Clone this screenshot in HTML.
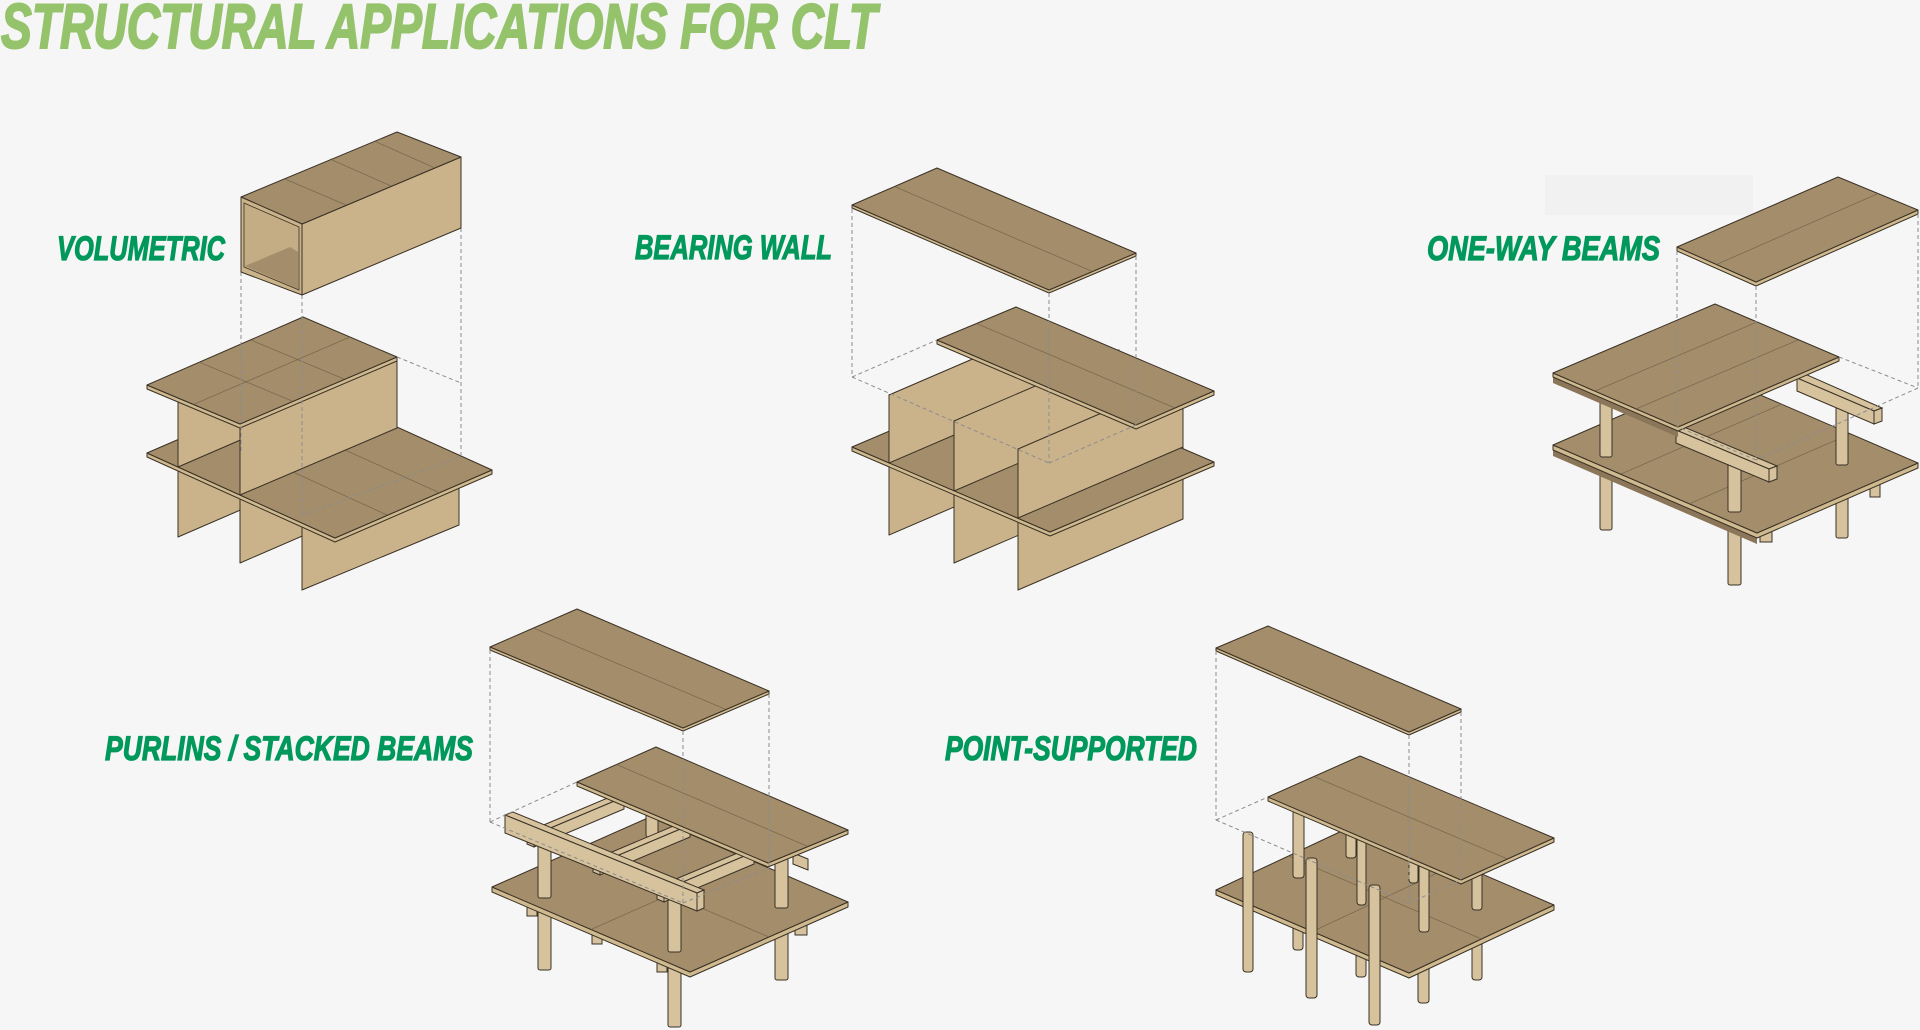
<!DOCTYPE html>
<html>
<head>
<meta charset="utf-8">
<style>
html,body{margin:0;padding:0;background:#f6f6f6;}
svg{display:block;}
.t{fill:#a48d6b;stroke:#3a3125;stroke-width:1;stroke-linejoin:round}
.w{fill:#cab38a;stroke:#3a3125;stroke-width:1;stroke-linejoin:round}
.e{fill:#cfb98f;stroke:#3a3125;stroke-width:1;stroke-linejoin:round}
.s{stroke:#6e5d45;stroke-width:.8;fill:none;opacity:.75}
.d{stroke:#8c8c8c;stroke-width:1;fill:none;stroke-dasharray:4 3}
.c{fill:#d6c39e;stroke:#3a3125;stroke-width:1}
.b{fill:#8c7659;stroke:none}
.lbl{font-family:"Liberation Sans",sans-serif;font-weight:bold;font-style:italic;fill:#00985b;stroke:#00985b;stroke-width:1.2;font-size:34px}
.ttl{font-family:"Liberation Sans",sans-serif;font-weight:bold;font-style:italic;fill:#94c36b;stroke:#94c36b;stroke-width:2;font-size:63px}
</style>
</head>
<body>
<svg width="1920" height="1030" viewBox="0 0 1920 1030" xmlns="http://www.w3.org/2000/svg">
<rect x="0" y="0" width="1920" height="1030" fill="#f6f6f6"/>

<!-- Title -->
<text class="ttl" x="1" y="48" textLength="876" lengthAdjust="spacingAndGlyphs">STRUCTURAL APPLICATIONS FOR CLT</text>

<!-- Labels -->
<text class="lbl" x="57" y="260" textLength="168" lengthAdjust="spacingAndGlyphs">VOLUMETRIC</text>
<text class="lbl" x="635" y="259" textLength="197" lengthAdjust="spacingAndGlyphs">BEARING WALL</text>
<rect x="1545" y="175" width="208" height="40" fill="#f1f1f1"/>
<text class="lbl" x="1427" y="260" textLength="233" lengthAdjust="spacingAndGlyphs">ONE-WAY BEAMS</text>
<text class="lbl" x="105" y="760" textLength="368" lengthAdjust="spacingAndGlyphs">PURLINS / STACKED BEAMS</text>
<text class="lbl" x="945" y="760" textLength="252" lengthAdjust="spacingAndGlyphs">POINT-SUPPORTED</text>

<!-- ================= FIG 1 : VOLUMETRIC ================= -->
<polygon class="w" points="178,399 245,370 245,508 178,537"/>
<polygon class="w" points="240,424 397,357 397,495 240,563"/>
<polygon class="w" points="302,523 459,455 459,525 302,590"/>
<polygon class="e" points="147,453 335,538 492,470 492,474 335,542 147,457"/>
<polygon class="t" points="147,453 304,385 492,470 335,538"/>
<line class="s" x1="345" y1="450" x2="440" y2="493"/>
<line class="s" x1="293" y1="472" x2="387" y2="515"/>
<polygon class="w" points="178,399 245,370 245,438 178,467"/>
<polygon class="w" points="240,424 397,357 397,428 240,495"/>
<polygon class="e" points="147,385 240,424 397,357 397,361 240,428 147,389"/>
<polygon class="t" points="147,385 303,317 397,357 240,424"/>
<line class="s" x1="193.5" y1="404.5" x2="350" y2="337"/>
<line class="s" x1="199" y1="362" x2="292" y2="401"/>
<line class="s" x1="251" y1="340" x2="344" y2="379"/>
<!-- dashed -->
<line class="d" x1="241" y1="272" x2="241" y2="453"/>
<line class="d" x1="302" y1="295" x2="302" y2="515"/>
<line class="d" x1="461" y1="228" x2="461" y2="457"/>
<line class="d" x1="397" y1="357" x2="461" y2="383"/>
<line class="d" x1="302" y1="515" x2="461" y2="457"/>
<!-- top box -->
<polygon class="w" points="302,224 461,157 461,228 302,295"/>
<polygon class="t" points="241,197 397,132 461,157 302,224"/>
<line class="s" x1="285" y1="179" x2="346" y2="205"/>
<line class="s" x1="330" y1="159" x2="391" y2="186"/>
<line class="s" x1="374" y1="141" x2="435" y2="168"/>
<polygon class="w" points="241,197 302,224 302,295 241,272"/>
<polygon fill="#c4ad84" stroke="#3a3125" stroke-width="0.8" points="244,203 299,227 299,290 244,267"/>
<polygon fill="#a48d6b" points="245,266 290,247 298,252 298,289"/>

<!-- ================= FIG 2 : BEARING WALL ================= -->
<polygon class="w" points="889,395 1054,324 1054,464 889,535"/>
<polygon class="w" points="954,421 1119,350 1119,492 954,563"/>
<polygon class="w" points="1018,449 1183,378 1183,519 1018,590"/>
<polygon class="e" points="852,447 1050,532 1214,462 1214,466 1050,536 852,451"/>
<polygon class="t" points="852,447 1016,377 1214,462 1050,532"/>
<polygon class="w" points="889,395 1054,324 1054,392 889,463"/>
<polygon class="w" points="954,421 1119,350 1119,420 954,491"/>
<polygon class="w" points="1018,449 1183,378 1183,447 1018,518"/>
<polygon class="e" points="937,340 1136,425 1214,391 1214,395 1136,429 937,344"/>
<polygon class="t" points="937,340 1016,307 1214,391 1136,425"/>
<line class="s" x1="976.5" y1="323.5" x2="1175" y2="408"/>
<polygon class="e" points="852,205 1049,290 1136,253 1136,256 1049,293 852,208"/>
<polygon class="t" points="852,205 937,168 1136,253 1049,290"/>
<line class="s" x1="894.5" y1="186.5" x2="1092.5" y2="271.5"/>
<line class="d" x1="852" y1="209" x2="852" y2="377"/>
<line class="d" x1="1049" y1="293" x2="1049" y2="463"/>
<line class="d" x1="1136" y1="256" x2="1136" y2="425"/>
<line class="d" x1="852" y1="377" x2="937" y2="340"/>
<line class="d" x1="852" y1="377" x2="1049" y2="463"/>
<line class="d" x1="1049" y1="463" x2="1136" y2="425"/>

<!-- ================= FIG 3 : ONE-WAY BEAMS ================= -->
<rect class="c" x="1600" y="462" width="12" height="68" rx="2"/>
<rect class="c" x="1728" y="515" width="13" height="70" rx="2"/>
<rect class="c" x="1836" y="480" width="12" height="58" rx="2"/>
<rect class="c" x="1870" y="470" width="10" height="27"/>
<rect class="c" x="1760" y="528" width="12" height="14"/>
<polygon class="b" points="1553,450 1757,538 1757,544 1553,456"/>
<polygon class="e" points="1553,445 1757,533 1918,463 1918,468 1757,538 1553,450"/>
<polygon class="t" points="1553,445 1714,375 1918,463 1757,533"/>
<line class="s" x1="1621" y1="474" x2="1782" y2="404"/>
<line class="s" x1="1689" y1="504" x2="1850" y2="434"/>
<rect class="c" x="1600" y="395" width="12" height="62" rx="2"/>
<rect class="c" x="1728" y="450" width="13" height="62" rx="2"/>
<rect class="c" x="1836" y="395" width="12" height="70" rx="2"/>
<!-- back beam -->
<polygon class="c" points="1797,378 1805,374 1882,408 1874,411"/>
<polygon class="c" points="1797,378 1874,411 1874,424 1797,391"/>
<polygon class="c" points="1874,411 1882,408 1882,421 1874,424"/>
<!-- front beam -->
<polygon class="c" points="1676,430 1684,427 1777,466 1769,469"/>
<polygon class="c" points="1676,430 1769,469 1769,482 1676,443"/>
<polygon class="c" points="1769,469 1777,466 1777,479 1769,482"/>
<polygon class="b" points="1553,377 1678,431 1678,437 1553,383"/>
<polygon class="e" points="1553,373 1678,427 1839,357 1839,361 1678,431 1553,377"/>
<polygon class="t" points="1553,373 1715,304 1839,357 1678,427"/>
<line class="s" x1="1595" y1="391" x2="1757" y2="322"/>
<line class="s" x1="1636" y1="409" x2="1798" y2="340"/>
<polygon class="e" points="1677,247 1756,282 1918,210 1918,214 1756,286 1677,251"/>
<polygon class="t" points="1677,247 1838,177 1918,210 1756,282"/>
<line class="s" x1="1716.5" y1="264.5" x2="1878" y2="193.5"/>
<line class="d" x1="1677" y1="251" x2="1677" y2="427"/>
<line class="d" x1="1756" y1="286" x2="1756" y2="460"/>
<line class="d" x1="1918" y1="214" x2="1918" y2="388"/>
<line class="d" x1="1839" y1="357" x2="1918" y2="388"/>
<line class="d" x1="1918" y1="388" x2="1756" y2="460"/>
<line class="d" x1="1756" y1="460" x2="1678" y2="427"/>

<!-- ================= FIG 4 : PURLINS ================= -->
<rect class="c" x="538" y="905" width="13" height="65" rx="2"/>
<rect class="c" x="668" y="960" width="13" height="67" rx="2"/>
<rect class="c" x="775" y="915" width="13" height="65" rx="2"/>
<rect class="c" x="527" y="902" width="10" height="14"/>
<rect class="c" x="592" y="930" width="10" height="14"/>
<rect class="c" x="657" y="958" width="10" height="14"/>
<rect class="c" x="795" y="915" width="12" height="20"/>
<polygon class="e" points="492,887 690,972 848,902 848,907 690,977 492,892"/>
<polygon class="t" points="492,887 650,817 848,902 690,972"/>
<line class="s" x1="571" y1="852" x2="769" y2="937"/>
<line class="s" x1="591" y1="929.5" x2="749" y2="859.5"/>
<rect class="c" x="646" y="810" width="12" height="27" rx="2"/>
<rect class="c" x="775" y="858" width="13" height="50" rx="2"/>
<rect class="c" x="538" y="835" width="13" height="63" rx="2"/>
<rect class="c" x="668" y="885" width="13" height="67" rx="2"/>
<!-- cross beams -->
<polygon class="c" points="527,832 617,794 624,797 534,835"/>
<polygon class="c" points="534,835 624,797 624,809 534,847"/>
<polygon class="c" points="527,832 534,835 534,847 527,844"/>
<polygon class="c" points="593,860 683,822 690,825 600,863"/>
<polygon class="c" points="600,863 690,825 690,837 600,875"/>
<polygon class="c" points="593,860 600,863 600,875 593,872"/>
<polygon class="c" points="657,887 747,849 754,852 664,890"/>
<polygon class="c" points="664,890 754,852 754,864 664,902"/>
<polygon class="c" points="657,887 664,890 664,902 657,899"/>
<!-- long beam -->
<polygon class="c" points="505,815 513,812 704,890 697,893"/>
<polygon class="c" points="505,815 697,893 697,911 505,833"/>
<polygon class="c" points="697,893 704,890 704,908 697,911"/>
<polygon class="c" points="793,853 808,859 808,870 793,864"/>
<polygon class="e" points="577,782 768,863 848,830 848,834 768,867 577,786"/>
<polygon class="t" points="577,782 656,747 848,830 768,863"/>
<line class="s" x1="616.5" y1="764.5" x2="808" y2="846.5"/>
<polygon class="e" points="490,647 683,728 769,691 769,694 683,731 490,650"/>
<polygon class="t" points="490,647 577,609 769,691 683,728"/>
<line class="s" x1="533.5" y1="628" x2="726" y2="709.5"/>
<line class="d" x1="490" y1="650" x2="490" y2="822"/>
<line class="d" x1="683" y1="731" x2="683" y2="903"/>
<line class="d" x1="769" y1="694" x2="769" y2="868"/>
<line class="d" x1="490" y1="822" x2="577" y2="782"/>
<line class="d" x1="490" y1="822" x2="683" y2="903"/>
<line class="d" x1="683" y1="903" x2="769" y2="868"/>

<!-- ================= FIG 5 : POINT-SUPPORTED ================= -->
<rect class="c" x="1293" y="915" width="10" height="35" rx="3"/>
<rect class="c" x="1356" y="945" width="10" height="32" rx="3"/>
<rect class="c" x="1418" y="960" width="11" height="43" rx="3"/>
<rect class="c" x="1472" y="940" width="10" height="40" rx="3"/>
<polygon class="e" points="1216,890 1409,973 1554,905 1554,910 1409,978 1216,895"/>
<polygon class="t" points="1216,890 1361,822 1554,905 1409,973"/>
<line class="s" x1="1288.5" y1="856" x2="1481.5" y2="939"/>
<line class="s" x1="1312.5" y1="931.5" x2="1457.5" y2="863.5"/>
<rect class="c" x="1346" y="830" width="10" height="28" rx="3"/>
<rect class="c" x="1409" y="855" width="9" height="28" rx="3"/>
<rect class="c" x="1293" y="810" width="11" height="68" rx="3"/>
<rect class="c" x="1357" y="835" width="9" height="70" rx="3"/>
<rect class="c" x="1472" y="870" width="10" height="40" rx="3"/>
<rect class="c" x="1419" y="862" width="10" height="70" rx="3"/>
<polygon class="e" points="1268,797 1461,880 1554,838 1554,842 1461,884 1268,801"/>
<polygon class="t" points="1268,797 1360,756 1554,838 1461,880"/>
<line class="s" x1="1314" y1="776.5" x2="1507.5" y2="859"/>
<rect class="c" x="1243" y="832" width="10" height="140" rx="3"/>
<rect class="c" x="1306" y="858" width="11" height="140" rx="3"/>
<rect class="c" x="1369" y="885" width="11" height="140" rx="3"/>
<polygon class="e" points="1216,648 1409,732 1461,709 1461,712 1409,735 1216,651"/>
<polygon class="t" points="1216,648 1268,626 1461,709 1409,732"/>
<line class="d" x1="1216" y1="651" x2="1216" y2="820"/>
<line class="d" x1="1409" y1="735" x2="1409" y2="903"/>
<line class="d" x1="1461" y1="712" x2="1461" y2="880"/>
<line class="d" x1="1216" y1="820" x2="1268" y2="797"/>
<line class="d" x1="1216" y1="820" x2="1409" y2="903"/>
<line class="d" x1="1409" y1="903" x2="1461" y2="880"/>
</svg>
</body>
</html>
